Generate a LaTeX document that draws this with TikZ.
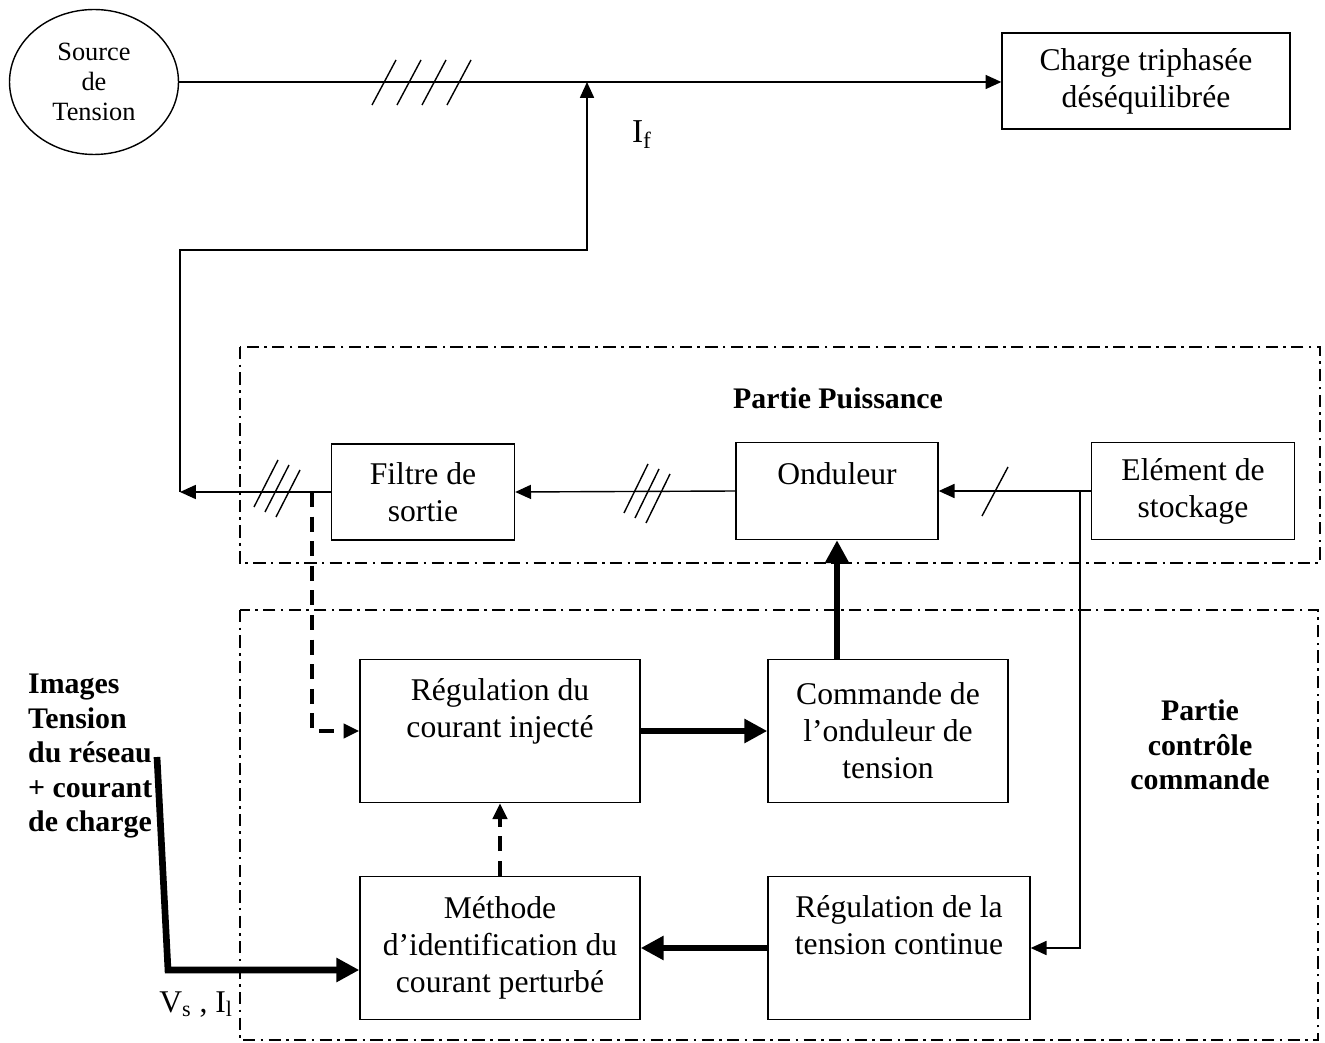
\documentclass[tikz,border=0pt]{standalone}
\usepackage{fontspec}
\setmainfont{Liberation Serif}
\usetikzlibrary{arrows.meta, positioning, shapes.geometric, calc}

\tikzset{
  box/.style={draw, line width=0.8pt, rectangle, align=center, inner sep=2pt,
    font=\fontsize{18}{21}\selectfont},
  texte/.style={align=center, font=\fontsize{18}{21}\selectfont},
  titre/.style={align=center, font=\fontsize{17}{19.6}\selectfont\bfseries},
  wire/.style={line width=0.8pt},
  fleche/.style={wire, -{Triangle[length=9pt,width=8pt]}},
  gros/.style={line width=3.8pt, -{Triangle[length=13pt,width=13pt]}},
  pointille/.style={line width=2.2pt, dash pattern=on 8.5pt off 5.5pt,
    -{Triangle[length=9pt,width=8pt]}},
  zone/.style={line width=0.7pt, dash pattern=on 7pt off 3pt on 1.5pt off 3pt}
}

\begin{document}
\begin{tikzpicture}[x=0.02cm, y=-0.02cm]
  \useasboundingbox (0,0) rectangle (1325,1043);

  % zones
  \draw[zone] (240,347) rectangle (1320,563);
  \draw[zone] (240,610) rectangle (1318,1040);
  \node[titre] (puis) at (838,398) {Partie Puissance};
  \node[titre] (ctrl) at (1200,745) {Partie\\contrôle\\commande};

  % reseau
  \node[draw, ellipse, line width=0.8pt, minimum width=3.38cm, minimum height=2.9cm,
    align=center, font=\fontsize{15}{17}\selectfont] (src) at (94,82) {Source\\de\\Tension};
  \node[box, minimum width=5.76cm, minimum height=1.92cm] (charge) at (1146,81)
    {Charge triphasée\\déséquilibrée};

  % partie puissance
  \node[box, minimum width=3.66cm, minimum height=1.92cm] (filtre) at (423,492) {Filtre de\\sortie};
  \node[box, minimum width=4.04cm, minimum height=1.94cm,
    label={[texte, yshift=10pt]center:Onduleur}] (ond) at (837,491) {};
  \node[box, minimum width=4.06cm, minimum height=1.94cm] (stock) at (1193,491) {Elément de\\stockage};

  % partie commande
  \node[box, minimum width=5.6cm, minimum height=2.86cm,
    label={[texte, yshift=11pt]center:Régulation du\\courant injecté}] (regI) at (500,731) {};
  \node[box, minimum width=4.8cm, minimum height=2.86cm] (cmd) at (888,731) {Commande de\\l’onduleur de\\tension};
  \node[box, minimum width=5.6cm, minimum height=2.86cm] (meth) at (500,948) {Méthode\\d’identification du\\courant perturbé};
  \node[box, minimum width=5.24cm, minimum height=2.86cm,
    label={[texte, yshift=13pt]center:Régulation de la\\tension continue}] (regV) at (899,948) {};

  % liaisons
  \coordinate (jf) at (587,82);
  \coordinate (retour) at (180,492);
  \coordinate (jd) at (312,492);
  \coordinate (jv) at (1080,492);
  \coordinate (img) at (157,757);
  \coordinate (pied) at (168,970);

  \draw[fleche] (src.east) -- (src.east -| charge.west);
  \draw[fleche] (filtre.west) -- (retour);
  \draw[fleche] (retour) -- (180,250) -| (jf);
  \draw[fleche] (ond.west) -- (filtre.east);
  \draw[fleche] (stock.west) -- (ond.east);
  \draw[fleche] (jv) |- (regV.east);
  \draw[gros] (regI.east) -- (cmd.west);
  \draw[gros] (ond.south |- cmd.north) -- (ond.south);
  \draw[gros] (regV.west) -- (meth.east);
  \draw[pointille] (meth.north) -- (regI.south);
  \draw[pointille] (jd) |- (regI.west);
  \draw[gros] (img) -- (pied) -- (pied -| meth.west);

  % barres des phases
  \foreach \i in {0,...,3}
    \draw[wire] (372+\i*25,105) -- ++(24,-45);
  \foreach \i in {0,1,2}
    \draw[wire] (254+\i*11,507+\i*5) -- ++(24,-47);
  \foreach \i in {0,1,2}
    \draw[wire] (624+\i*11,513+\i*5) -- ++(24,-49);
  \draw[wire] (982,516) -- ++(26,-49);

  % etiquettes
  \node[texte, font=\fontsize{19}{21}\selectfont] (if) at (642,135) {I\textsubscript{f}};
  \node[titre, align=left, anchor=north west] (images) at (22,668)
    {Images\\Tension\\du réseau\\+ courant\\de charge};
  \node[texte, anchor=base west, inner sep=0pt] (vs) at (159,1012) {V\textsubscript{s} , I\textsubscript{l}};
\end{tikzpicture}
\end{document}
